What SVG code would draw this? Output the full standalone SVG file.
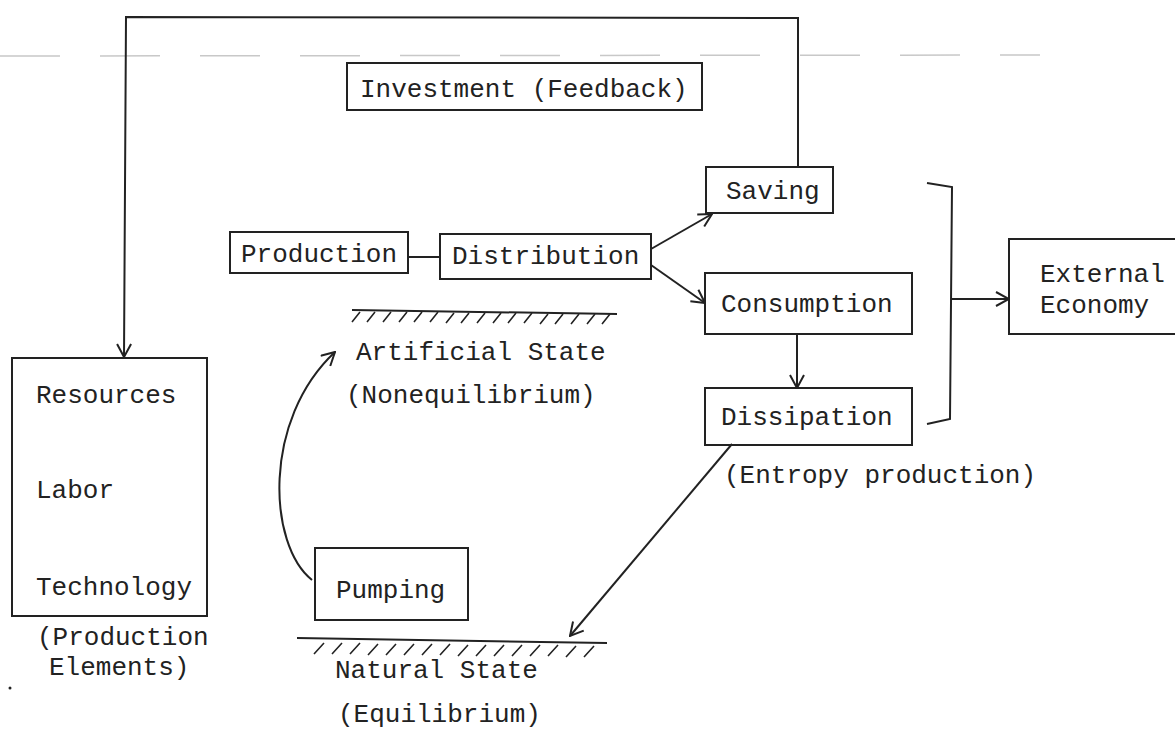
<svg xmlns="http://www.w3.org/2000/svg" width="1175" height="731" viewBox="0 0 1175 731">
<style>
.box{fill:none;stroke:#222;stroke-width:2}
.ln{fill:none;stroke:#222;stroke-width:2}
.arr{fill:none;stroke:#222;stroke-width:2;marker-end:url(#ah)}
.t{font-family:"Liberation Mono",monospace;font-size:26px;fill:#222}
.h{fill:none;stroke:#222;stroke-width:1.6}
</style>
<defs>
<marker id="ah" viewBox="0 0 16 16" refX="15" refY="8" markerWidth="16" markerHeight="16" markerUnits="userSpaceOnUse" orient="auto">
<path d="M2,1 L15,8 L2,15" fill="none" stroke="#222" stroke-width="2"/>
</marker>
</defs>
<rect width="1175" height="731" fill="#fff"/>
<line x1="0" y1="56" x2="1040" y2="55" stroke="#c8c8c8" stroke-width="1.5" stroke-dasharray="60 40"/>

<g id="connectors">
<path class="arr" d="M798,167 L798,18 L126,17 L124,357"/>
<line class="ln" x1="408" y1="257" x2="440" y2="257"/>
<line class="arr" x1="651" y1="249" x2="712" y2="214"/>
<line class="arr" x1="651" y1="265" x2="705" y2="303"/>
<line class="arr" x1="797" y1="334" x2="797" y2="388"/>
<path class="ln" d="M927,183 L952,187 L950,419 L927,424"/>
<line class="arr" x1="951" y1="299" x2="1009" y2="299"/>
<line class="arr" x1="732" y1="444" x2="570" y2="636"/>
<path class="arr" d="M312,580 C268,545 262,420 335,352"/>
</g>

<g id="investment">
<rect class="box" x="347" y="63" width="355" height="47"/>
<text class="t" x="360" y="97">Investment (Feedback)</text>
</g>
<g id="saving">
<rect class="box" x="706" y="167" width="127" height="46"/>
<text class="t" x="726" y="199">Saving</text>
</g>
<g id="production">
<rect class="box" x="230" y="232" width="178" height="41"/>
<text class="t" x="241" y="262">Production</text>
</g>
<g id="distribution">
<rect class="box" x="440" y="234" width="211" height="45"/>
<text class="t" x="452" y="264">Distribution</text>
</g>
<g id="consumption">
<rect class="box" x="705" y="273" width="207" height="61"/>
<text class="t" x="721" y="312">Consumption</text>
</g>
<g id="dissipation">
<rect class="box" x="705" y="388" width="207" height="57"/>
<text class="t" x="721" y="425">Dissipation</text>
</g>
<g id="external">
<rect class="box" x="1009" y="239" width="180" height="95"/>
<text class="t" x="1040" y="282">External</text>
<text class="t" x="1040" y="313">Economy</text>
</g>
<g id="elements">
<rect class="box" x="12" y="358" width="195" height="258"/>
<text class="t" x="36" y="403">Resources</text>
<text class="t" x="36" y="498">Labor</text>
<text class="t" x="36" y="595">Technology</text>
<text class="t" x="37" y="645">(Production</text>
<text class="t" x="49" y="675">Elements)</text>
<circle cx="10" cy="688" r="1.5" fill="#222"/>
</g>
<g id="artificial">
<line class="ln" x1="352" y1="310" x2="617" y2="314"/>
<path class="h" d="M352,322 L360,312 M367,322 L375,312 M383,322 L391,312 M399,322 L407,312 M414,322 L422,312 M430,322 L438,312 M446,323 L454,313 M461,323 L469,313 M477,323 L485,313 M493,323 L501,313 M508,323 L516,313 M524,323 L532,313 M540,324 L548,314 M555,324 L563,314 M571,324 L579,314 M587,324 L595,314 M602,324 L610,314"/>
<text class="t" x="356" y="360">Artificial State</text>
<text class="t" x="346" y="403">(Nonequilibrium)</text>
</g>
<g id="pumping">
<rect class="box" x="315" y="548" width="153" height="72"/>
<text class="t" x="336" y="598">Pumping</text>
</g>
<g id="natural">
<line class="ln" x1="297" y1="638" x2="607" y2="643"/>
<path class="h" d="M314,654 L324,643 M332,654 L342,643 M350,654 L360,643 M368,655 L378,644 M386,655 L396,644 M404,655 L414,644 M422,655 L432,644 M440,655 L450,644 M458,656 L468,645 M476,656 L486,645 M494,656 L504,645 M512,656 L522,645 M530,656 L540,645 M548,656 L558,645 M566,657 L576,646 M584,657 L594,646"/>
<text class="t" x="335" y="678">Natural State</text>
<text class="t" x="338" y="722">(Equilibrium)</text>
</g>
<g id="entropy">
<text class="t" x="724" y="483">(Entropy production)</text>
</g>
</svg>
